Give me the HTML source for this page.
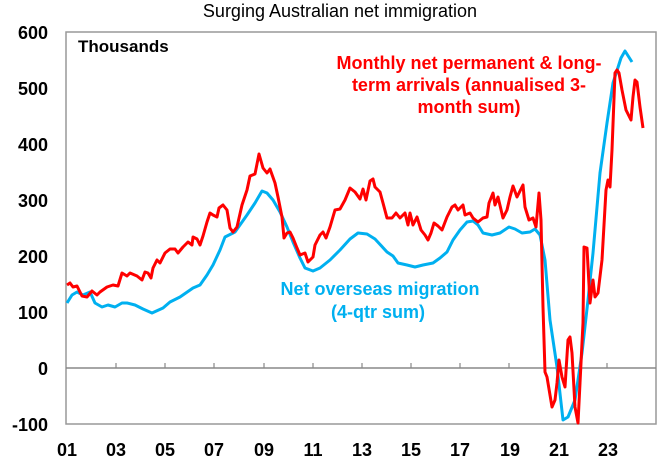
<!DOCTYPE html>
<html><head><meta charset="utf-8"><style>
html,body{margin:0;padding:0;background:#fff;}
svg{display:block;font-family:"Liberation Sans",Arial,sans-serif;}
</style></head><body>
<svg width="663" height="466" viewBox="0 0 663 466" xmlns="http://www.w3.org/2000/svg">
<rect width="663" height="466" fill="#fff"/>
<text x="340" y="17" font-size="18" text-anchor="middle" fill="#000">Surging Australian net immigration</text>
<rect x="66" y="32" width="590" height="392" fill="none" stroke="#999" stroke-width="1.5"/>
<line x1="66" y1="368" x2="656" y2="368" stroke="#888" stroke-width="1.5"/>
<g stroke="#888" stroke-width="1.2">
<line x1="116" y1="368" x2="116" y2="363"/><line x1="165" y1="368" x2="165" y2="363"/><line x1="214" y1="368" x2="214" y2="363"/><line x1="264" y1="368" x2="264" y2="363"/><line x1="313" y1="368" x2="313" y2="363"/><line x1="362" y1="368" x2="362" y2="363"/><line x1="411" y1="368" x2="411" y2="363"/><line x1="460" y1="368" x2="460" y2="363"/><line x1="509" y1="368" x2="509" y2="363"/><line x1="558" y1="368" x2="558" y2="363"/><line x1="607" y1="368" x2="607" y2="363"/>
</g>
<g font-size="18" font-weight="bold" text-anchor="end" fill="#000">
<text x="48" y="39">600</text><text x="48" y="95">500</text><text x="48" y="151">400</text><text x="48" y="207">300</text><text x="48" y="263">200</text><text x="48" y="319">100</text><text x="48" y="375">0</text><text x="48" y="431">-100</text>
</g>
<g font-size="18" font-weight="bold" text-anchor="middle" fill="#000">
<text x="67" y="456">01</text><text x="116" y="456">03</text><text x="165" y="456">05</text><text x="214" y="456">07</text><text x="264" y="456">09</text><text x="313" y="456">11</text><text x="362" y="456">13</text><text x="411" y="456">15</text><text x="460" y="456">17</text><text x="510" y="456">19</text><text x="559" y="456">21</text><text x="608" y="456">23</text>
</g>
<text x="78" y="52" font-size="17" font-weight="bold" fill="#000">Thousands</text>
<g font-size="18" font-weight="bold" fill="#ff0000" text-anchor="middle">
<text x="469" y="69">Monthly net permanent &amp; long-</text>
<text x="469" y="91">term arrivals (annualised 3-</text>
<text x="469" y="113">month sum)</text>
</g>
<g font-size="18" font-weight="bold" fill="#00b0f0" text-anchor="middle">
<text x="380" y="295">Net overseas migration</text>
<text x="378" y="318">(4-qtr sum)</text>
</g>
<polyline fill="none" stroke="#00b0f0" stroke-width="3" stroke-linejoin="round" points="67,303 72,295 77,292 83,295 90,292 95,303 102,307 108,305 115,307 122,303 127,303 135,305 143,309 152,313 163,308 170,302 180,297 193,288 200,285 207,275 213,265 220,250 225,237 235,232 247,215 255,203 262,191 267,193 273,200 280,212 287,227 293,242 300,258 305,268 313,271 320,268 330,260 340,250 350,239 358,233 367,234 375,239 387,252 393,256 398,263 407,265 415,267 423,265 433,263 440,258 447,252 453,240 460,230 467,222 473,221 478,225 483,233 492,235 500,233 509,227 515,229 522,233 530,232 535,229 540,235 545,260 550,320 557,367 563,420 568,417 575,400 582,353 588,300 593,253 600,173 607,123 613,83 621,58 625,51 632,62"/>
<polyline fill="none" stroke="#ff0000" stroke-width="3" stroke-linejoin="round" points="67,285 70,283 73,287 77,286 82,296 87,297 92,291 97,295 100,292 107,287 113,285 118,286 122,273 127,276 130,273 137,276 142,280 145,272 148,273 151,278 153,268 157,260 160,263 165,253 170,249 175,249 178,253 183,247 188,242 192,245 193,237 197,239 200,245 203,236 207,222 210,213 213,215 217,217 219,208 223,205 227,210 230,228 233,232 237,227 242,205 247,190 250,176 255,174 259,154 263,168 267,173 270,169 275,183 278,197 282,217 284,238 287,233 290,232 293,238 297,248 300,255 305,253 308,262 313,257 315,245 320,235 323,232 326,238 330,227 335,210 340,209 345,200 350,188 355,192 360,199 363,189 366,200 370,181 373,179 375,187 380,192 383,203 387,218 392,218 396,213 400,218 405,213 408,225 410,213 413,225 417,217 421,230 425,235 428,240 431,233 434,223 438,226 442,230 447,217 452,207 455,205 458,210 463,205 465,215 470,213 473,218 478,222 483,218 487,217 489,203 493,193 495,205 498,197 503,218 507,210 510,197 513,186 517,197 519,193 523,185 525,207 529,220 533,218 536,227 539,193 541,220 543,307 545,372 547,377 552,407 555,400 557,383 559,360 562,377 565,387 568,340 570,337 572,353 575,407 578,423 580,383 583,323 584,247 587,248 590,303 593,280 595,297 598,293 602,260 606,190 608,180 610,187 612,150 615,73 617,70 619,73 622,90 626,110 631,120 633,97 635,80 637,82 640,107 643,128"/>
</svg>
</body></html>
